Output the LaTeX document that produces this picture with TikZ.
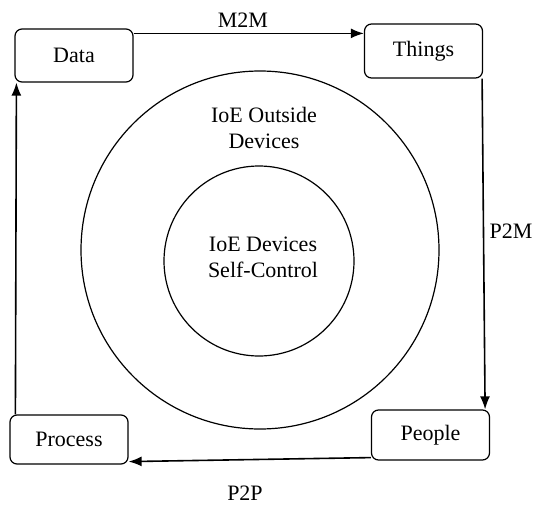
\documentclass[tikz,border=0pt]{standalone}
\usepackage{fontspec}
\setmainfont{Liberation Serif}
\usetikzlibrary{arrows.meta}
\begin{document}
\begin{tikzpicture}[
    x=1pt, y=-1pt,
    every node/.style={font=\rmfamily\fontsize{22}{26}\selectfont},
    box/.style={draw, line width=1.2pt, rounded corners=7pt, minimum width=118pt, inner sep=0pt},
    ring/.style={draw, line width=1.2pt, circle, inner sep=0pt},
    flow/.style={draw, line width=1.6pt, -{Latex[length=13pt,width=10pt]}},
]
\useasboundingbox (0,0) rectangle (533,506);

% Cercles
\node[ring, minimum size=358pt] (outer) at (260,250) {};
\node[ring, minimum size=190pt] (inner) at (259,261) {};
\node[align=center, inner sep=0pt] (outerlabel) at (264,128) {IoE Outside\\Devices};
\node[align=center, inner sep=0pt] (innerlabel) at (263,257) {IoE Devices\\Self-Control};

% Boites
\node[box, minimum height=53pt] (data) at (74,55.5) {Data};
\node[box, minimum height=54pt] (things) at (423.5,51) {Things};
\node[box, minimum height=49pt] (process) at (69,439.5) {Process};
\node[box, minimum height=50pt] (people) at (430.5,435) {People};

% Fleches
\draw[flow] ([yshift=-5pt]data.north east) -- ([yshift=-10pt]things.north west);
\draw[flow] ([xshift=-1pt]things.south east) -- ([xshift=-5pt]people.north east);
\draw[flow] ([yshift=3pt]people.south west) -- ([yshift=3pt]process.south east);
\draw[flow] ([xshift=6pt]process.north west) -- ([xshift=2pt]data.south west);

% Etiquettes
\node (m2m) at (243,20) {M2M};
\node (p2m) at (511,231) {P2M};
\node (p2p) at (245,493) {P2P};

\end{tikzpicture}
\end{document}
